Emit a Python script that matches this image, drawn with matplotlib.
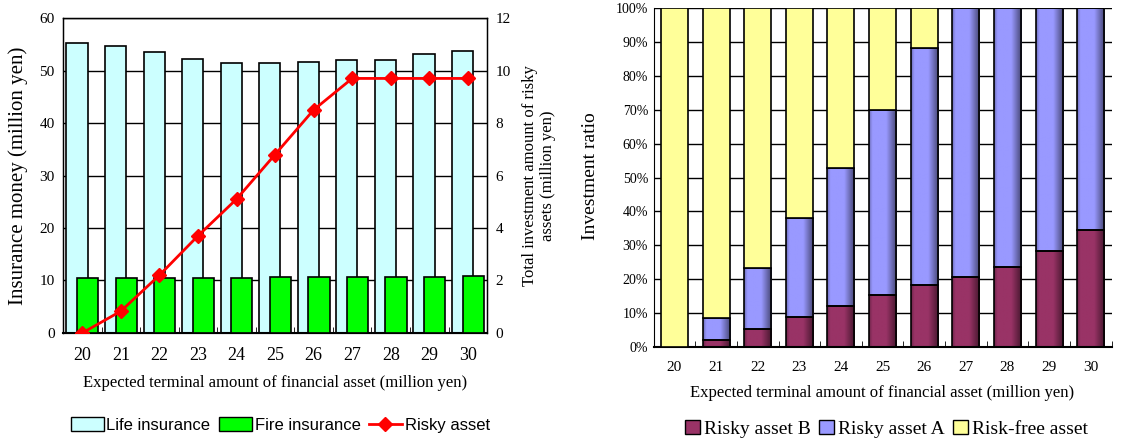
import matplotlib
matplotlib.use("Agg")
import matplotlib.pyplot as plt
import numpy as np
from matplotlib.lines import Line2D
from matplotlib.patches import Patch
from matplotlib.colors import to_rgb

categories = ["20", "21", "22", "23", "24", "25", "26", "27", "28", "29", "30"]
life_insurance = [55.2, 54.6, 53.5, 52.2, 51.4, 51.4, 51.7, 52.0, 52.0, 53.1, 53.7]
fire_insurance = [10.4, 10.4, 10.4, 10.4, 10.4, 10.6, 10.6, 10.6, 10.6, 10.6, 10.8]
risky_asset = [0.0, 0.83, 2.2, 3.7, 5.1, 6.8, 8.5, 9.7, 9.7, 9.7, 9.7]

risky_b = [0.0, 2.0, 5.3, 8.8, 12.2, 15.3, 18.3, 20.8, 23.7, 28.3, 34.6]
risky_a = [0.0, 6.5, 17.9, 29.4, 40.6, 54.6, 69.8, 79.2, 76.3, 71.7, 65.4]
risk_free = [100.0, 91.5, 76.8, 61.8, 47.2, 30.1, 11.9, 0.0, 0.0, 0.0, 0.0]

serif = ["Liberation Serif", "DejaVu Serif"]
sans = ["Liberation Sans", "DejaVu Sans"]

fig = plt.figure(figsize=(11.25, 4.41), dpi=100)

# ---------------- Left chart ----------------
ax1 = fig.add_axes([0.056, 0.245, 0.377, 0.714])
x = np.arange(len(categories))
ax1.bar(x - 0.137, life_insurance, width=0.55, color="#CCFFFF", edgecolor="black", linewidth=1.2, zorder=2)
ax1.bar(x + 0.137, fire_insurance, width=0.55, color="#00FF00", edgecolor="black", linewidth=1.2, zorder=3)
ax1.set_ylim(0, 60)
ax1.set_yticks(range(0, 61, 10))
ax1.set_xlim(-0.5, len(categories) - 0.5)
ax1.set_xticks(x)
ax1.set_xticklabels(categories, fontfamily=serif, fontsize=13)
ax1.set_xticks(np.arange(-0.5, len(categories)), minor=True)
ax1.tick_params(axis="x", which="major", length=0, pad=10)
ax1.tick_params(axis="x", which="minor", direction="in", length=4, color="black")
ax1.tick_params(axis="y", length=0, labelsize=11, pad=6)
for lbl in ax1.get_yticklabels():
    lbl.set_fontfamily(serif)
ax1.grid(axis="y", color="black", linewidth=1.0, zorder=0)
ax1.set_axisbelow(True)
for s in ax1.spines.values():
    s.set_linewidth(1.0)
ax1.spines["bottom"].set_linewidth(1.5)
ax1.set_ylabel("Insurance money (million yen)", fontfamily=serif, fontsize=15, labelpad=8)
ax1.set_xlabel("Expected terminal amount of financial asset (million yen)", fontfamily=serif, fontsize=12, labelpad=8)

ax1b = ax1.twinx()
ax1b.plot(x, risky_asset, color="#FF0000", linewidth=2, marker="D", markersize=7, zorder=5)
ax1b.set_ylim(0, 12)
ax1b.set_yticks(range(0, 13, 2))
ax1b.tick_params(axis="y", length=0, labelsize=11, pad=6)
for lbl in ax1b.get_yticklabels():
    lbl.set_fontfamily(serif)
ax1b.set_ylabel("Total investment amount of risky\nassets (million yen)", fontfamily=serif, fontsize=12, labelpad=8)

handles1 = [
    Patch(facecolor="#CCFFFF", edgecolor="black", label="Life insurance"),
    Patch(facecolor="#00FF00", edgecolor="black", label="Fire insurance"),
    Line2D([0], [0], color="#FF0000", linewidth=2, marker="D", markersize=7, label="Risky asset"),
]
fig.legend(handles=handles1, loc="center", bbox_to_anchor=(0.249, 0.036), ncol=3, frameon=False,
           prop={"family": sans, "size": 12}, handlelength=2.0, handleheight=0.9,
           handletextpad=0.15, columnspacing=0.5)

# ---------------- Right chart ----------------
ax2 = fig.add_axes([0.581, 0.213, 0.407, 0.769])
w = 0.65


def shaded_bars(ax, xs, heights, bottoms, color, shade):
    bars = ax.bar(xs, heights, width=w, bottom=bottoms, facecolor=color if not shade else "none",
                  edgecolor="black", linewidth=1.2, zorder=3)
    if shade:
        base = np.array(to_rgb(color))
        t = np.linspace(0, 1, 64)
        fac = np.ones_like(t)
        fac = np.where(t < 0.12, 0.72 + (1 - 0.72) * t / 0.12, fac)
        fac = np.where(t > 0.62, 1 - (1 - 0.45) * (t - 0.62) / 0.38, fac)
        grad = (base[None, :] * fac[:, None])[None, :, :]
        for p in bars.patches:
            if p.get_height() <= 0:
                continue
            x0, y0 = p.get_x(), p.get_y()
            im = ax.imshow(grad, extent=[x0, x0 + p.get_width(), y0, y0 + p.get_height()],
                           aspect="auto", zorder=2, interpolation="bilinear")
            im.set_clip_path(p)
    return bars


bot = np.zeros(len(categories))
shaded_bars(ax2, x, risky_b, bot, "#993366", True)
bot = bot + np.array(risky_b)
shaded_bars(ax2, x, risky_a, bot, "#9999FF", True)
bot = bot + np.array(risky_a)
shaded_bars(ax2, x, risk_free, bot, "#FFFF99", False)
ax2.set_ylim(0, 100)
ax2.set_yticks(range(0, 101, 10))
ax2.set_yticklabels([f"{v}%" for v in range(0, 101, 10)], fontfamily=serif, fontsize=10)
ax2.set_xlim(-0.5, len(categories) - 0.5)
ax2.set_xticks(x)
ax2.set_xticklabels(categories, fontfamily=serif, fontsize=11)
ax2.set_xticks(np.arange(-0.5, len(categories)), minor=True)
ax2.tick_params(axis="x", which="major", length=0, pad=10)
ax2.tick_params(axis="x", which="minor", direction="in", length=4, color="black")
ax2.tick_params(axis="y", length=0, pad=4)
ax2.grid(axis="y", color="black", linewidth=1.0, zorder=0)
ax2.set_axisbelow(True)
for s in ["top", "right"]:
    ax2.spines[s].set_visible(False)
ax2.spines["bottom"].set_linewidth(1.5)
fig.text(0.525, 0.6, "Investment ratio", fontfamily=serif, fontsize=14, rotation=90,
         ha="center", va="center")
ax2.set_xlabel("Expected terminal amount of financial asset (million yen)", fontfamily=serif, fontsize=12, labelpad=8)

handles2 = [
    Patch(facecolor="#993366", edgecolor="black", label="Risky asset B"),
    Patch(facecolor="#9999FF", edgecolor="black", label="Risky asset A"),
    Patch(facecolor="#FFFF99", edgecolor="black", label="Risk-free asset"),
]
fig.legend(handles=handles2, loc="center", bbox_to_anchor=(0.788, 0.028), ncol=3, frameon=False,
           prop={"family": serif, "size": 14}, handlelength=0.8, handleheight=0.8, handletextpad=0.2, columnspacing=0.4)

fig.savefig("out.png", dpi=100)
